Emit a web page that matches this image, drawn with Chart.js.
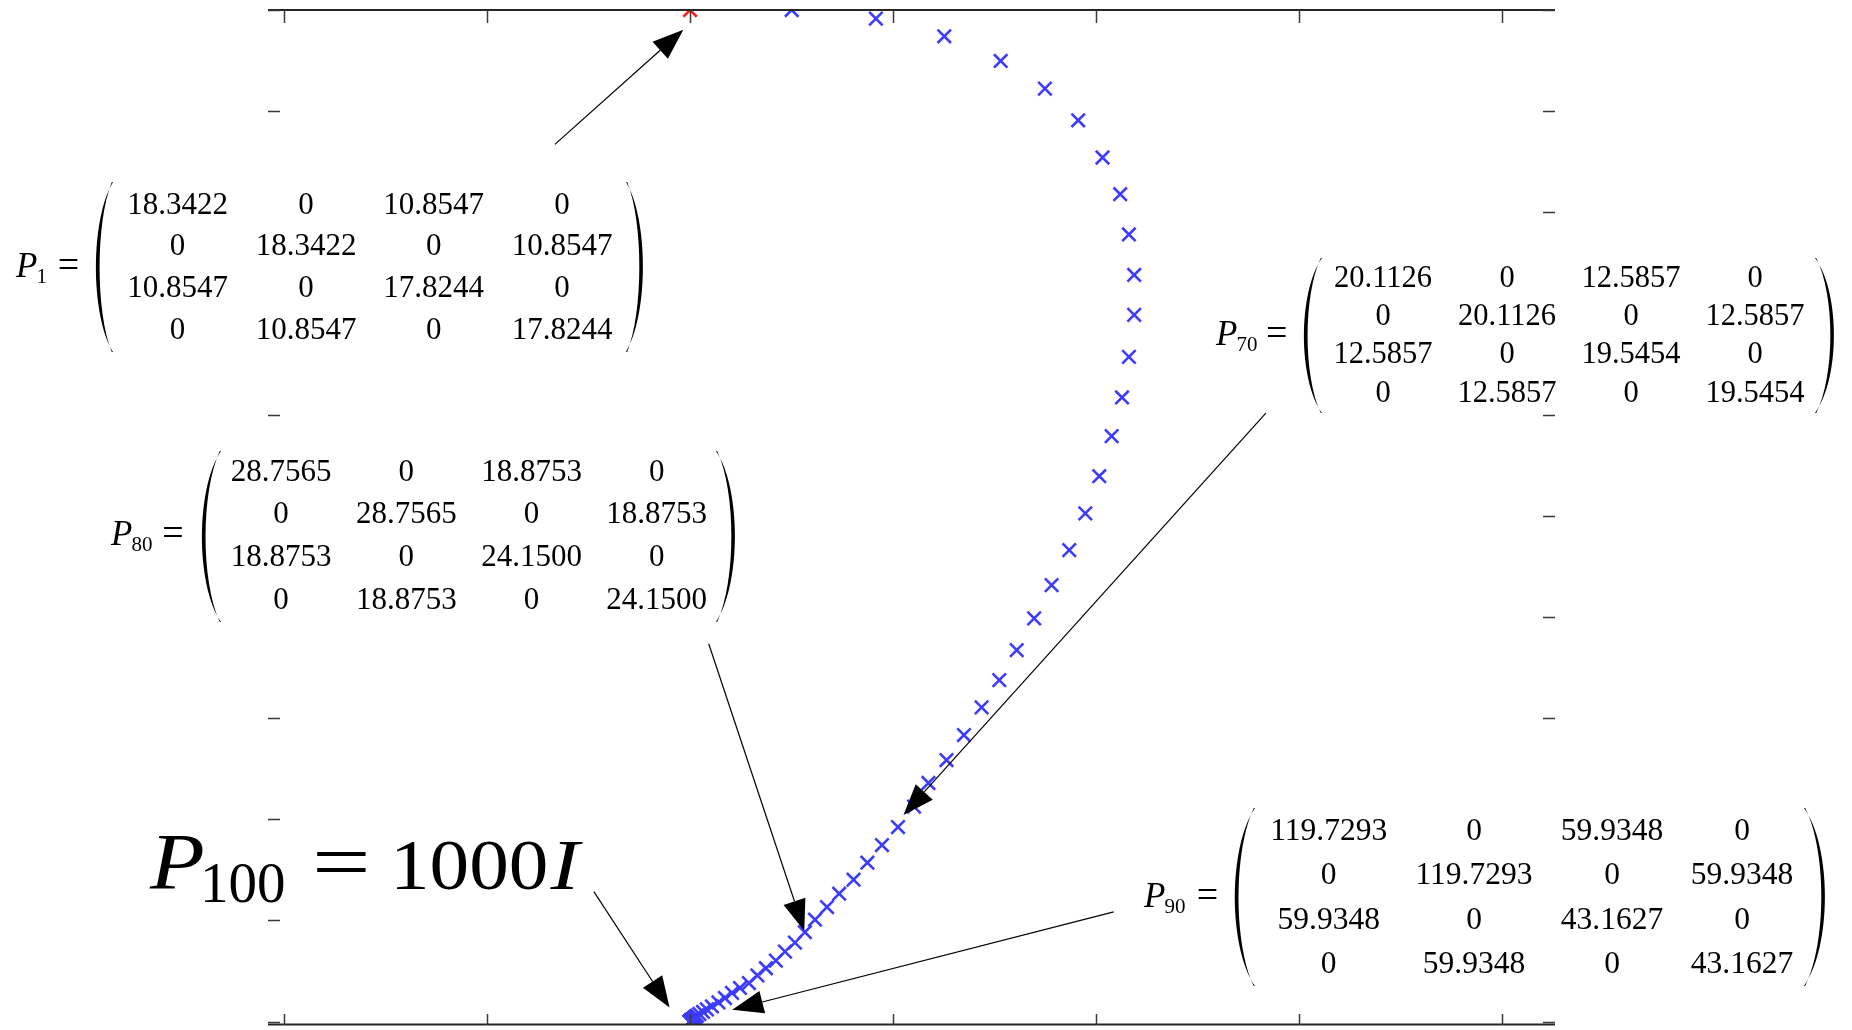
<!DOCTYPE html>
<html>
<head>
<meta charset="utf-8">
<title>Riccati iterates</title>
<script src="https://cdn.jsdelivr.net/npm/chart.js@4.4.1/dist/chart.umd.min.js"></script>
<style>
  html, body { margin: 0; padding: 0; background: #ffffff; }
  #wrap { width: 1852px; height: 1030px; }
</style>
</head>
<body>
<div id="wrap"><canvas id="chart" width="1852" height="1030"></canvas></div>
<script>
// Iterates of the recursion, index 0 is P1 (drawn red), the rest in blue.
const iterX = [
  2.000, 2.501, 2.916, 3.253, 3.531, 3.749, 3.913, 4.033, 4.120, 4.163,
  4.189, 4.189, 4.163, 4.129, 4.078, 4.017, 3.948, 3.869, 3.782, 3.696,
  3.610, 3.524, 3.437, 3.350, 3.264, 3.175, 3.104, 3.025, 2.946, 2.874,
  2.806, 2.735, 2.675, 2.616, 2.566, 2.517, 2.468, 2.423, 2.374, 2.332,
  2.290, 2.246, 2.207, 2.172, 2.140, 2.108, 2.083, 2.064, 2.046, 2.034,
  2.028, 2.024, 2.020, 2.017, 2.014, 2.012, 2.010, 2.009, 2.008, 2.007,
  2.006, 2.005, 2.005, 2.004, 2.004, 2.003, 2.003, 2.003, 2.002, 2.002,
  2.002, 2.002, 2.001, 2.001, 2.001, 2.001, 2.001, 2.001, 2.001, 2.001,
  2.000, 2.000, 2.000, 2.000, 2.000, 2.000, 2.000, 2.000, 2.000, 2.000,
  2.000, 2.000, 2.000, 2.000, 2.000, 2.000, 2.000, 2.000, 2.000, 2.000
];
const iterY = [
  10.000, 10.000, 9.915, 9.740, 9.496, 9.223, 8.910, 8.542, 8.179, 7.781,
  7.381, 6.986, 6.571, 6.170, 5.788, 5.392, 5.024, 4.661, 4.315, 3.986,
  3.673, 3.376, 3.107, 2.833, 2.586, 2.359, 2.126, 1.924, 1.746, 1.571,
  1.403, 1.265, 1.133, 1.008, 0.884, 0.781, 0.692, 0.603, 0.528, 0.457,
  0.382, 0.333, 0.284, 0.234, 0.190, 0.150, 0.121, 0.096, 0.076, 0.059,
  0.050, 0.043, 0.036, 0.031, 0.026, 0.022, 0.019, 0.016, 0.014, 0.012,
  0.010, 0.009, 0.008, 0.007, 0.006, 0.005, 0.005, 0.004, 0.004, 0.003,
  0.003, 0.003, 0.002, 0.002, 0.002, 0.002, 0.001, 0.001, 0.001, 0.001,
  0.000, 0.000, 0.000, 0.000, 0.000, 0.000, 0.000, 0.000, 0.000, 0.000,
  0.000, 0.000, 0.000, 0.000, 0.000, 0.000, 0.000, 0.000, 0.000, 0.000
];

// Tick positions (the axes carry no tick labels)
const xTicks = [0, 1, 2, 3, 4, 5, 6];
const yTicks = [0, 1, 2, 3, 4, 5, 6, 7, 8, 9, 10];

// Matrices shown in the call-outs
const P1  = [[18.3422, 0, 10.8547, 0], [0, 18.3422, 0, 10.8547], [10.8547, 0, 17.8244, 0], [0, 10.8547, 0, 17.8244]];
const P70 = [[20.1126, 0, 12.5857, 0], [0, 20.1126, 0, 12.5857], [12.5857, 0, 19.5454, 0], [0, 12.5857, 0, 19.5454]];
const P80 = [[28.7565, 0, 18.8753, 0], [0, 28.7565, 0, 18.8753], [18.8753, 0, 24.1500, 0], [0, 18.8753, 0, 24.1500]];
const P90 = [[119.7293, 0, 59.9348, 0], [0, 119.7293, 0, 59.9348], [59.9348, 0, 43.1627, 0], [0, 59.9348, 0, 43.1627]];
const terminalLabel = { sym: 'P', sub: '100', eq: '=', value: '1000', tail: 'I' };

// ---- layout of the call-outs (canvas pixels) ----
const SERIF = '"Liberation Serif", "Times New Roman", serif';
const callouts = [
  { m: P1, sub: '1', font: 31, box: [5, 170, 645, 192],
    pX: 16, eqX: 68.5, cols: [177.5, 306, 433.7, 562], row0: 203, dRow: 41.7,
    parenL: [96, 113], parenR: [626, 643], parenY: [182, 352] },
  { m: P70, sub: '70', font: 30.5, box: [1205, 250, 640, 158],
    pX: 1216, eqX: 1276.7, cols: [1383, 1507, 1631, 1755], row0: 276.5, dRow: 38.2,
    parenL: [1304, 1322], parenR: [1815, 1834], parenY: [258, 413] },
  { m: P80, sub: '80', font: 31, box: [100, 445, 645, 183],
    pX: 111, eqX: 173, cols: [281, 406.3, 531.5, 656.7], row0: 470, dRow: 42.9,
    parenL: [202, 221], parenR: [716, 735], parenY: [451, 622] },
  { m: P90, sub: '90', font: 31.5, box: [1135, 800, 700, 195],
    pX: 1144, eqX: 1207.5, cols: [1328.7, 1474, 1612, 1742], row0: 829, dRow: 44.5,
    parenL: [1235, 1255], parenR: [1804, 1825], parenY: [808, 986] }
];

// Arrow tails/tips, in axis units
const arrows = [
  { from: [1.334, 8.672], to: [1.967, 9.806] },
  { from: [4.838, 6.015], to: [3.052, 2.043] },
  { from: [2.092, 3.735], to: [2.563, 0.899] },
  { from: [4.088, 1.086], to: [2.208, 0.118] },
  { from: [1.526, 1.285], to: [1.899, 0.140] }
];

function fmt(v) { return v === 0 ? '0' : v.toFixed(4); }

function paren(ctx, xa, xb, top, bot, left) {
  // a tall delimiter: thin at the ends, thicker in the middle
  const h = bot - top;
  const outer = left ? xa : xb;
  const endX = left ? xb : xa;
  const t = left ? 3.6 : -3.6;
  const e = left ? 1.2 : -1.2;
  const c1 = (outer - 0.25 * endX) / 0.75;
  const c2 = (outer + t - 0.25 * (endX - e)) / 0.75;
  ctx.beginPath();
  ctx.moveTo(endX, top);
  ctx.bezierCurveTo(c1, top + h * 0.22, c1, bot - h * 0.22, endX, bot);
  ctx.lineTo(endX - e, bot);
  ctx.bezierCurveTo(c2, bot - h * 0.24, c2, top + h * 0.24, endX - e, top);
  ctx.closePath();
  ctx.fill();
}

// text stretched horizontally by sx around its left edge
function wideText(ctx, str, x, y, sx) {
  ctx.save();
  ctx.translate(x, y);
  ctx.scale(sx, 1);
  ctx.fillText(str, 0, 0);
  const w = ctx.measureText(str).width * sx;
  ctx.restore();
  return w;
}

const axesPlugin = {
  id: 'matlabAxes',
  afterDatasetsDraw(chart) {
    const { ctx, chartArea: a, scales } = chart;
    ctx.save();
    ctx.strokeStyle = '#262626';
    ctx.lineWidth = 2;
    ctx.beginPath();
    ctx.moveTo(a.left, a.top); ctx.lineTo(a.right, a.top);
    ctx.moveTo(a.left, a.bottom - 0.5); ctx.lineTo(a.right, a.bottom - 0.5);
    ctx.stroke();
    ctx.lineWidth = 1.5;
    ctx.strokeStyle = '#3a3a3a';
    ctx.beginPath();
    xTicks.forEach(v => {
      const px = Math.round(scales.x.getPixelForValue(v)) + 0.5;
      ctx.moveTo(px, a.top); ctx.lineTo(px, a.top + 13);
      ctx.moveTo(px, a.bottom); ctx.lineTo(px, a.bottom - 11);
    });
    yTicks.forEach(v => {
      const py = Math.round(scales.y.getPixelForValue(v)) + 0.5;
      ctx.moveTo(a.left, py); ctx.lineTo(a.left + 12, py);
      ctx.moveTo(a.right, py); ctx.lineTo(a.right - 12, py);
    });
    ctx.stroke();
    ctx.restore();
  }
};

const notesPlugin = {
  id: 'callouts',
  afterDraw(chart) {
    const { ctx, scales } = chart;
    ctx.save();
    ctx.textBaseline = 'alphabetic';
    callouts.forEach(c => {
      // white backing box
      ctx.fillStyle = '#ffffff';
      ctx.fillRect(c.box[0], c.box[1], c.box[2], c.box[3]);
      ctx.fillStyle = '#000000';
      const mid = c.row0 + 1.5 * c.dRow;
      // label P_k =
      ctx.textAlign = 'left';
      ctx.font = 'italic 35px ' + SERIF;
      ctx.fillText('P', c.pX, mid + 11);
      const pw = ctx.measureText('P').width;
      ctx.font = '21px ' + SERIF;
      ctx.fillText(c.sub, c.pX + pw - 1, mid + 17);
      ctx.textAlign = 'center';
      ctx.font = '38px ' + SERIF;
      ctx.fillText('=', c.eqX, mid + 11);
      // entries
      ctx.font = c.font + 'px ' + SERIF;
      c.m.forEach((row, i) => {
        row.forEach((v, j) => {
          ctx.fillText(fmt(v), c.cols[j], c.row0 + i * c.dRow + 10.5);
        });
      });
      paren(ctx, c.parenL[0], c.parenL[1], c.parenY[0], c.parenY[1], true);
      paren(ctx, c.parenR[0], c.parenR[1], c.parenY[0], c.parenY[1], false);
    });

    // P100 = 1000I
    ctx.textAlign = 'left';
    ctx.font = 'italic 80px ' + SERIF;
    wideText(ctx, terminalLabel.sym, 150, 889, 1.12);
    ctx.font = '57px ' + SERIF;
    ctx.fillText(terminalLabel.sub, 200, 902);
    ctx.font = '80px ' + SERIF;
    wideText(ctx, terminalLabel.eq, 312, 889, 1.3);
    ctx.font = '72px ' + SERIF;
    const w = wideText(ctx, terminalLabel.value, 390, 889, 1.1);
    ctx.font = 'italic 72px ' + SERIF;
    wideText(ctx, terminalLabel.tail, 390 + w + 2, 889, 1.2);

    // arrows
    ctx.strokeStyle = '#000';
    ctx.lineWidth = 1.2;
    arrows.forEach(ar => {
      const x0 = scales.x.getPixelForValue(ar.from[0]);
      const y0 = scales.y.getPixelForValue(ar.from[1]);
      const x1 = scales.x.getPixelForValue(ar.to[0]);
      const y1 = scales.y.getPixelForValue(ar.to[1]);
      const dx = x1 - x0, dy = y1 - y0, len = Math.hypot(dx, dy);
      const ux = dx / len, uy = dy / len;
      const L = 31, W = 23;
      const bx = x1 - ux * L, by = y1 - uy * L;
      ctx.beginPath();
      ctx.moveTo(x0, y0); ctx.lineTo(bx, by);
      ctx.stroke();
      ctx.beginPath();
      ctx.moveTo(x1, y1);
      ctx.lineTo(bx - uy * W / 2, by + ux * W / 2);
      ctx.lineTo(bx + uy * W / 2, by - ux * W / 2);
      ctx.closePath();
      ctx.fill();
    });
    ctx.restore();
  }
};

const pts = iterX.map((x, i) => ({ x: x, y: iterY[i] }));

new Chart(document.getElementById('chart'), {
  type: 'scatter',
  data: {
    datasets: [
      { label: 'P_k', data: pts.slice(1), pointStyle: 'crossRot', pointRadius: 9.5,
        pointBorderWidth: 2.6, borderColor: '#3c3cff', backgroundColor: '#3c3cff', clip: 0 },
      { label: 'P_1', data: pts.slice(0, 1), pointStyle: 'crossRot', pointRadius: 9.5,
        pointBorderWidth: 2.6, borderColor: '#ff2020', backgroundColor: '#ff2020', clip: 0 }
    ]
  },
  options: {
    responsive: false,
    animation: false,
    devicePixelRatio: 1,
    events: [],
    layout: { autoPadding: false, padding: { left: 268, right: 297, top: 10, bottom: 5 } },
    plugins: { legend: { display: false }, tooltip: { enabled: false } },
    scales: {
      x: { type: 'linear', display: false, min: -0.080, max: 6.263 },
      y: { type: 'linear', display: false, min: -0.033, max: 10 }
    }
  },
  plugins: [axesPlugin, notesPlugin]
});
</script>
</body>
</html>
